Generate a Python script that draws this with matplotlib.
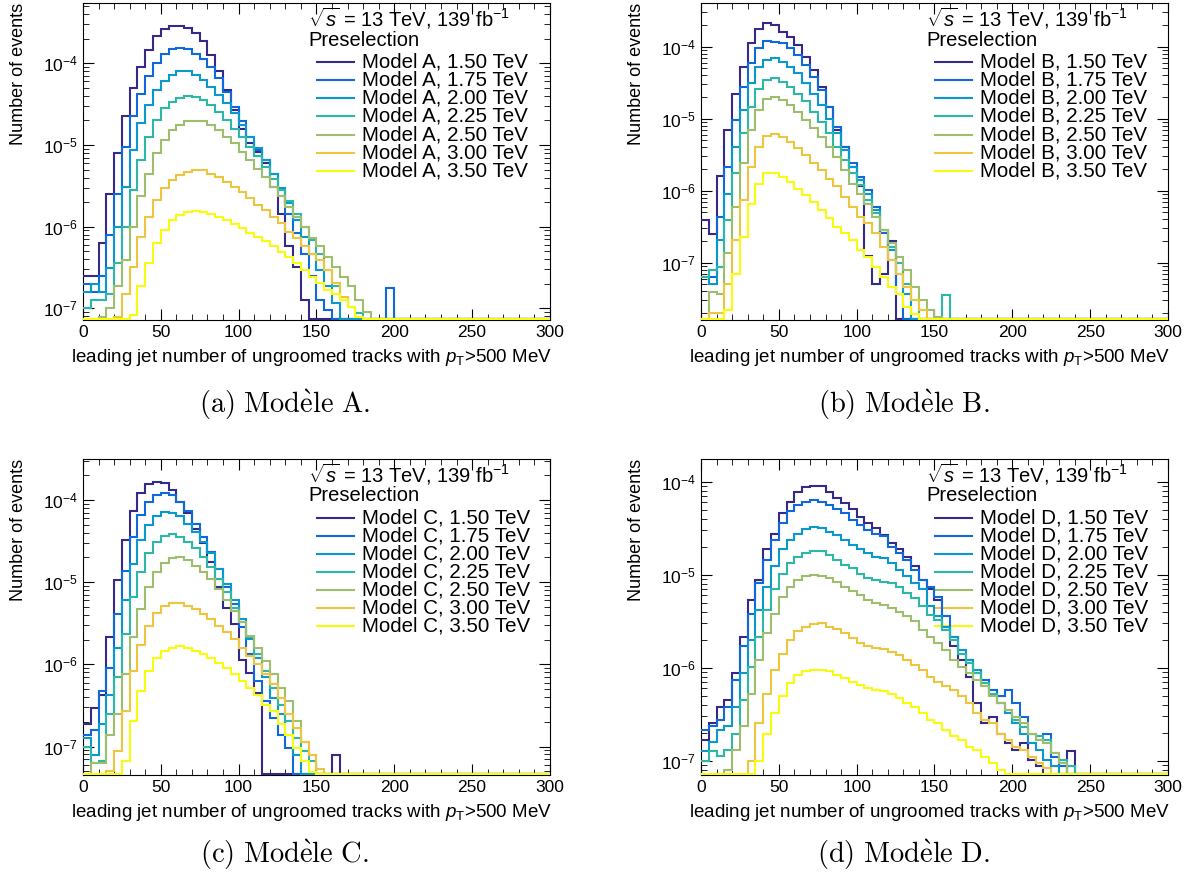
import matplotlib
matplotlib.use('Agg')
import matplotlib.pyplot as plt
import numpy as np
from matplotlib.ticker import MultipleLocator, LogLocator, NullFormatter

# Police type ROOT (Helvetica ~ Liberation Sans)
plt.rcParams['font.family'] = ['Liberation Sans', 'DejaVu Sans']
plt.rcParams['mathtext.fontset'] = 'custom'
plt.rcParams['mathtext.rm'] = 'Liberation Sans'
plt.rcParams['mathtext.it'] = 'Liberation Sans:italic'
plt.rcParams['mathtext.bf'] = 'Liberation Sans:bold'
plt.rcParams['mathtext.sf'] = 'Liberation Sans'

masses = ['1.50', '1.75', '2.00', '2.25', '2.50', '3.00', '3.50']
colours = ['#352a87', '#1168da', '#0a98ce', '#2eb7a4', '#9fbe6d', '#efc43f', '#f9fb0e']
bin_width = 5
edges = np.arange(0, 301, bin_width)

# log10(nombre d'événements) par intervalle de 5 traces (None = vide)
log_a = [
    [-6.6, -6.6, -6.2, -5.6, -5.1, -4.65, -4.3, -4.04, -3.84, -3.67, -3.58, -3.54, -3.54, -3.57, -3.63, -3.73,
     -3.90, -4.10, -4.33, -4.57, -4.80, -4.98, -5.08, -5.22, -5.51, -5.84, -6.24, -6.49, -6.9],
    [-6.7, -6.8, -6.6, -6.1, -5.6, -5.02, -4.65, -4.37, -4.16, -4.0, -3.89, -3.83, -3.81, -3.83, -3.88, -3.95,
     -4.04, -4.18, -4.35, -4.53, -4.71, -4.90, -5.06, -5.18, -5.35, -5.55, -5.84, -6.08, -6.33, -6.6, -6.9, -7.02,
     None, None, None, None, None, None, None, -6.75],
    [-6.8, -6.7, -6.8, -6.5, -6.0, -5.51, -5.06, -4.73, -4.51, -4.33, -4.22, -4.14, -4.10, -4.10, -4.14, -4.2,
     -4.29, -4.39, -4.49, -4.61, -4.76, -4.9, -5.04, -5.18, -5.35, -5.53, -5.71, -5.92, -6.12, -6.33, -6.53, -6.73,
     -6.94],
    [-7.0, -6.9, -6.9, -6.82, -6.45, -6.0, -5.55, -5.18, -4.9, -4.69, -4.55, -4.47, -4.42, -4.40, -4.41, -4.45,
     -4.51, -4.59, -4.69, -4.8, -4.9, -5.02, -5.14, -5.27, -5.41, -5.55, -5.69, -5.84, -6.0, -6.16, -6.33, -6.53,
     -6.73, -6.9, -6.98, -7.06],
    [None, None, -7.1, -7.0, -6.73, -6.41, -6.0, -5.63, -5.35, -5.1, -4.94, -4.82, -4.76, -4.71, -4.70, -4.71,
     -4.76, -4.82, -4.9, -4.98, -5.08, -5.18, -5.29, -5.39, -5.51, -5.63, -5.76, -5.88, -6.0, -6.14, -6.24, -6.37,
     -6.49, -6.61, -6.73, -6.9, -7.05],
    [None, None, None, None, -7.1, -6.82, -6.49, -6.12, -5.88, -5.67, -5.53, -5.43, -5.37, -5.33, -5.31, -5.31,
     -5.35, -5.39, -5.45, -5.51, -5.57, -5.65, -5.73, -5.80, -5.88, -5.96, -6.06, -6.14, -6.24, -6.33, -6.41,
     -6.53, -6.69, -6.86, -6.98, -7.1],
    [None, None, None, None, None, None, -7.08, -6.73, -6.45, -6.2, -6.04, -5.92, -5.86, -5.82, -5.81, -5.82,
     -5.84, -5.88, -5.92, -5.97, -6.02, -6.08, -6.13, -6.18, -6.24, -6.31, -6.37, -6.45, -6.53, -6.61, -6.69,
     -6.78, -6.82, -6.9, -6.98, -7.1],
]

log_b = [
    [-6.4, -6.6, -5.8, -5.16, -4.65, -4.28, -3.95, -3.75, -3.67, -3.70, -3.79, -3.86, -3.98, -4.14, -4.32, -4.56,
     -4.83, -5.16, -5.39, -5.67, -5.94, -6.9, -7.3, -7.15, -6.7],
    [-7.2, -7.2, -6.36, -5.67, -5.02, -4.56, -4.23, -4.02, -3.92, -3.93, -3.95, -4.02, -4.12, -4.25, -4.42, -4.60,
     -4.83, -5.11, -5.39, -5.62, -5.81, -5.99, -6.22, -6.59, -6.96, -7.43],
    [-7.2, -7.3, -6.69, -6.04, -5.39, -4.88, -4.51, -4.28, -4.18, -4.16, -4.21, -4.28, -4.37, -4.51, -4.65, -4.81,
     -5.0, -5.2, -5.44, -5.67, -5.85, -6.04, -6.27, -6.55, -6.82, -7.15, -7.43],
    [-7.2, -7.1, -7.06, -6.41, -5.76, -5.2, -4.83, -4.58, -4.46, -4.44, -4.49, -4.56, -4.65, -4.76, -4.91, -5.04,
     -5.2, -5.39, -5.57, -5.76, -5.92, -6.13, -6.31, -6.55, -6.78, -7.01, -7.29, -7.52, None, None, None, -7.45],
    [None, -7.4, -7.43, -6.87, -6.22, -5.62, -5.16, -4.88, -4.73, -4.70, -4.74, -4.81, -4.90, -5.02, -5.13, -5.25,
     -5.39, -5.53, -5.71, -5.90, -6.04, -6.18, -6.36, -6.55, -6.73, -6.92, -7.1, -7.33, -7.52, -7.66, -7.75],
    [None, -7.7, -7.7, -7.29, -6.69, -6.13, -5.67, -5.39, -5.24, -5.21, -5.25, -5.32, -5.41, -5.5, -5.62, -5.71,
     -5.83, -5.94, -6.08, -6.22, -6.36, -6.45, -6.59, -6.78, -6.96, -7.15, -7.33, -7.52, -7.66],
    [None, None, None, -7.66, -7.15, -6.64, -6.18, -5.90, -5.75, -5.76, -5.81, -5.88, -5.97, -6.06, -6.15, -6.27,
     -6.38, -6.5, -6.59, -6.69, -6.82, -6.92, -7.06, -7.2, -7.33, -7.43, -7.61, -7.71],
]

log_c = [
    [-6.73, -6.53, -6.37, -5.67, -4.98, -4.49, -4.14, -3.92, -3.81, -3.78, -3.80, -3.88, -4.02, -4.16, -4.35,
     -4.53, -4.76, -5.06, -5.31, -5.51, -5.95, -6.1, -6.35, None, None, None, None, None, None, None, None, None,
     -7.1],
    [-6.86, -6.8, -6.33, -6.04, -5.39, -4.86, -4.45, -4.18, -4.02, -3.94, -3.91, -3.94, -4.02, -4.14, -4.29, -4.45,
     -4.63, -4.84, -5.06, -5.27, -5.55, -5.88, -6.2, -6.45, -6.65, -6.86, -7.02],
    [-6.9, -7.1, -6.73, -6.37, -5.8, -5.22, -4.78, -4.49, -4.31, -4.2, -4.15, -4.16, -4.2, -4.29, -4.39, -4.51,
     -4.65, -4.84, -5.02, -5.22, -5.45, -5.69, -5.92, -6.16, -6.41, -6.61, -6.86, -7.1],
    [-7.0, -7.2, -7.18, -6.61, -6.16, -5.63, -5.18, -4.88, -4.65, -4.51, -4.44, -4.42, -4.45, -4.51, -4.59, -4.69,
     -4.82, -4.96, -5.12, -5.31, -5.49, -5.67, -5.88, -6.08, -6.29, -6.49, -6.69, -6.9, -7.06, -7.18],
    [None, -7.2, -7.2, -6.86, -6.61, -6.12, -5.67, -5.33, -5.06, -4.88, -4.77, -4.71, -4.70, -4.73, -4.8, -4.88,
     -4.96, -5.08, -5.22, -5.35, -5.49, -5.65, -5.8, -5.96, -6.12, -6.29, -6.45, -6.69, -6.94, -7.1],
    [None, None, None, -7.3, -7.06, -6.57, -6.08, -5.76, -5.53, -5.37, -5.29, -5.25, -5.25, -5.29, -5.33, -5.39,
     -5.45, -5.53, -5.61, -5.69, -5.8, -5.9, -6.0, -6.12, -6.24, -6.41, -6.61, -6.78, -6.94, -7.1, -7.27],
    [None, None, None, None, None, -7.18, -6.69, -6.33, -6.08, -5.92, -5.84, -5.8, -5.78, -5.8, -5.84, -5.88,
     -5.92, -5.98, -6.04, -6.12, -6.2, -6.29, -6.37, -6.49, -6.57, -6.73, -6.86, -7.02, -7.18, -7.31],
]

log_d = [
    [-6.78, -6.6, -6.42, -6.35, -6.06, -5.67, -5.27, -5.06, -4.73, -4.56, -4.34, -4.22, -4.11, -4.06, -4.05, -4.05,
     -4.11, -4.18, -4.23, -4.29, -4.38, -4.44, -4.5, -4.57, -4.66, -4.73, -4.81, -4.91, -5.06, -5.16, -5.27, -5.56,
     -5.77, -5.92, -6.1, -6.38, -6.6, -6.53, -6.71, -6.81, -6.89, -6.81, -6.99, -7.06, None, None, None, -6.9],
    [-6.67, -6.63, -6.56, -6.42, -6.13, -5.77, -5.42, -5.09, -4.84, -4.63, -4.45, -4.32, -4.25, -4.22, -4.2, -4.22,
     -4.25, -4.3, -4.34, -4.41, -4.47, -4.52, -4.56, -4.59, -4.7, -4.77, -4.84, -4.95, -5.06, -5.13, -5.24, -5.45,
     -5.67, -5.81, -5.92, -6.06, -6.13, -6.24, -6.31, -6.24, -6.38, -6.53, -6.71, -6.78, -6.71, -6.96, -7.06],
    [-6.9, -6.8, -6.67, -6.63, -6.42, -6.06, -5.7, -5.38, -5.13, -4.91, -4.73, -4.63, -4.56, -4.51, -4.49, -4.5,
     -4.54, -4.57, -4.63, -4.68, -4.72, -4.77, -4.81, -4.82, -4.88, -4.95, -5.02, -5.09, -5.16, -5.34, -5.45, -5.56,
     -5.67, -5.81, -5.92, -6.03, -6.17, -6.28, -6.38, -6.49, -6.6, -6.71, -6.81, -6.89, -6.99, -7.06],
    [-7.0, -6.9, -6.95, -6.89, -6.71, -6.35, -5.99, -5.67, -5.38, -5.16, -4.99, -4.88, -4.81, -4.77, -4.75, -4.75,
     -4.79, -4.84, -4.9, -4.93, -4.99, -5.04, -5.06, -5.08, -5.09, -5.13, -5.2, -5.25, -5.34, -5.43, -5.49, -5.6,
     -5.7, -5.85, -5.95, -6.06, -6.17, -6.28, -6.38, -6.46, -6.56, -6.64, -6.71, -6.74, -6.78, -6.92, -6.99, -7.06],
    [None, None, None, -7.1, -6.89, -6.63, -6.28, -5.92, -5.63, -5.42, -5.24, -5.13, -5.06, -5.02, -5.0, -5.01,
     -5.04, -5.08, -5.13, -5.18, -5.22, -5.27, -5.31, -5.33, -5.36, -5.4, -5.45, -5.5, -5.6, -5.67, -5.74, -5.81,
     -5.92, -5.99, -6.06, -6.13, -6.2, -6.31, -6.38, -6.46, -6.53, -6.6, -6.71, -6.78, -6.81, -6.92, -7.03],
    [None, None, None, None, None, None, -7.0, -6.6, -6.28, -6.03, -5.85, -5.7, -5.61, -5.56, -5.53, -5.52,
     -5.56, -5.59, -5.63, -5.68, -5.74, -5.77, -5.79, -5.8, -5.83, -5.86, -5.92, -5.97, -6.03, -6.1, -6.15, -6.2,
     -6.24, -6.31, -6.38, -6.49, -6.56, -6.6, -6.71, -6.78, -6.85, -6.89, -6.96, -7.03, -7.08],
    [None, None, None, None, None, None, None, -7.0, -6.71, -6.49, -6.31, -6.17, -6.08, -6.04, -6.03, -6.03,
     -6.04, -6.08, -6.11, -6.15, -6.19, -6.22, -6.24, -6.25, -6.28, -6.33, -6.38, -6.42, -6.49, -6.56, -6.6,
     -6.67, -6.74, -6.78, -6.85, -6.89, -6.96, -7.03, -7.1],
]

panels = [
    ('A', log_a, (7.2e-8, 5.47e-4), '(a)'),
    ('B', log_b, (1.6e-8, 4.05e-4), '(b)'),
    ('C', log_c, (4.5e-8, 3.15e-4), '(c)'),
    ('D', log_d, (7.0e-8, 1.75e-4), '(d)'),
]

# Positions des axes en fraction de la figure (gauche, bas, largeur, hauteur)
axes_rects = [
    (0.069, 0.642, 0.3885, 0.3546),
    (0.5832, 0.642, 0.3885, 0.3546),
    (0.069, 0.1331, 0.3885, 0.3535),
    (0.5832, 0.1331, 0.3885, 0.3535),
]
caption_pos = [(0.237, 0.547), (0.752, 0.547), (0.237, 0.044), (0.752, 0.044)]


def to_counts(series, floor):
    # les intervalles vides sont posés sur le bas de l'axe, comme dans ROOT
    counts = np.full(len(edges) - 1, floor)
    for i, v in enumerate(series):
        if v is not None:
            counts[i] = max(10 ** v, floor)
    return counts


def draw_panel(ax, model, log_vals, ylim):
    for series, colour in zip(log_vals, colours):
        ax.stairs(to_counts(series, ylim[0] * 1.02), edges, baseline=None, color=colour, lw=1.5, zorder=3)
    ax.set_yscale('log')
    ax.set_xlim(0, 300)
    ax.set_ylim(*ylim)

    ax.xaxis.set_major_locator(MultipleLocator(50))
    ax.xaxis.set_minor_locator(MultipleLocator(10))
    ax.yaxis.set_major_locator(LogLocator(base=10, numticks=20))
    ax.yaxis.set_minor_locator(LogLocator(base=10, subs=np.arange(2, 10), numticks=20))
    ax.yaxis.set_minor_formatter(NullFormatter())
    ax.tick_params(which='both', direction='in', top=True, right=True, labelsize=12.5)
    ax.tick_params(which='major', length=8)
    ax.tick_params(which='minor', length=4)

    ax.set_xlabel(r'leading jet number of ungroomed tracks with $p_{\mathrm{T}}$>500 MeV',
                  fontsize=13.5, loc='right')
    ax.xaxis.set_label_coords(1.005, -0.085)
    ax.set_ylabel('Number of events', fontsize=13, loc='top')
    ax.yaxis.set_label_coords(-0.12, 1.0)

    # Légende à la manière de ROOT
    ax.text(0.482, 0.952, r'$\sqrt{s}$ = 13 TeV, 139 fb$^{-1}$', transform=ax.transAxes,
            fontsize=14.5, va='center')
    ax.text(0.482, 0.883, 'Preselection', transform=ax.transAxes, fontsize=14.5, va='center')
    for i, (mass, colour) in enumerate(zip(masses, colours)):
        y = 0.814 - i * 0.0572
        ax.plot([0.501, 0.580], [y, y], transform=ax.transAxes, color=colour, lw=1.5)
        ax.text(0.597, y, f'Model {model}, {mass} TeV', transform=ax.transAxes,
                fontsize=14.8, va='center')


fig = plt.figure(figsize=(12.02, 8.94), dpi=100)
for (model, log_vals, ylim, tag), rect, (cx, cy) in zip(panels, axes_rects, caption_pos):
    ax = fig.add_axes(rect)
    draw_panel(ax, model, log_vals, ylim)
    fig.text(cx, cy, r'$\mathrm{' + tag + r'\ Mod\grave{e}le\ ' + model + r'.}$',
             math_fontfamily='cm', fontsize=20.5, ha='center', va='center')

fig.savefig('out.png', dpi=100)
